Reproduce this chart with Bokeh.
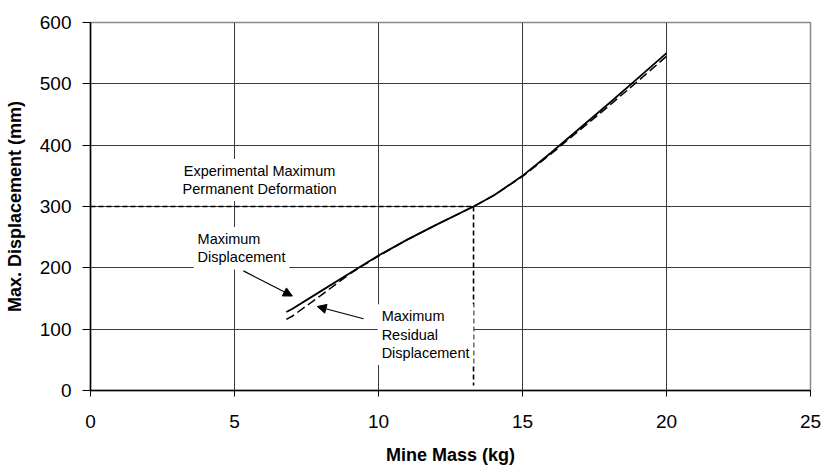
from bokeh.plotting import figure
from bokeh.models import Range1d, FixedTicker, Label, Arrow, NormalHead
from bokeh.embed import file_html
from bokeh.resources import INLINE

# Data
mass_disp = [6.8, 7.0, 8.0, 9.0, 10.0, 11.0, 12.0, 13.0, 13.3, 14.0, 15.0, 16.0, 17.0, 18.0, 19.0, 20.0]
max_disp = [128, 133, 162, 191, 220, 246, 270, 293, 300, 318, 350, 388, 428, 468, 509, 550]
mass_res = [6.8, 7.0, 8.0, 9.0, 9.5, 10.0, 11.0, 12.0, 13.0, 13.3, 14.0, 15.0, 16.0, 17.0, 18.0, 19.0, 20.0]
res_disp = [116, 121, 155, 190, 205, 219, 246, 270, 293, 300, 318, 349, 386, 425, 464, 504, 545]
exp_mass = 13.3
exp_defo = 300
exp_bottom = 8
x_ticks = [0, 5, 10, 15, 20, 25]
y_ticks = [0, 100, 200, 300, 400, 500, 600]

FONT = "Liberation Sans"

p = figure(width=821, height=467, output_backend="svg", toolbar_location=None,
           x_range=Range1d(0, 25), y_range=Range1d(0, 600),
           min_border_left=90, min_border_right=11, min_border_top=22, min_border_bottom=75)
p.background_fill_color = "white"
p.border_fill_color = "white"
p.outline_line_color = "#8a8a8a"
p.outline_line_width = 1.5

for ax, ticks in ((p.xaxis, x_ticks), (p.yaxis, y_ticks)):
    ax.ticker = FixedTicker(ticks=ticks)
    ax.minor_tick_line_color = None
    ax.major_tick_in = 0
    ax.axis_line_color = "black"
    ax.axis_line_width = 1.5
    ax.major_tick_line_color = "black"
    ax.major_label_text_font = FONT
    ax.major_label_text_font_size = "19px"
    ax.major_label_text_color = "black"
    ax.axis_label_text_font = FONT
    ax.axis_label_text_font_style = "bold"
    ax.axis_label_text_font_size = "18px"
    ax.axis_label_text_color = "black"

p.xaxis.major_tick_out = 6
p.yaxis.major_tick_out = 8
p.xaxis.major_label_standoff = 18
p.yaxis.major_label_standoff = 11
p.xaxis.axis_label = "Mine Mass (kg)"
p.yaxis.axis_label = "Max. Displacement (mm)"
p.xaxis.axis_label_standoff = 14
p.yaxis.axis_label_standoff = 12

p.xgrid.ticker = FixedTicker(ticks=x_ticks)
p.ygrid.ticker = FixedTicker(ticks=y_ticks)
p.grid.grid_line_color = "#3a3a3a"
p.grid.grid_line_width = 1

# reference dashed lines
p.line([0, exp_mass], [exp_defo, exp_defo], line_color="black", line_width=1.6, line_dash="5 3")
p.line([exp_mass, exp_mass], [exp_defo, exp_bottom], line_color="black", line_width=1.6, line_dash="5 3")

# curves
p.line(mass_res, res_disp, line_color="black", line_width=1.5, line_dash="9 4")
p.line(mass_disp, max_disp, line_color="black", line_width=1.8)

# annotations
def add_label(x, y, txt, align):
    p.add_layout(Label(x=x, y=y, text=txt, text_align=align, text_baseline="middle",
                       text_font=FONT, text_font_size="14.5px", text_color="black",
                       text_line_height=1.15,
                       background_fill_color="white", padding=4))

add_label(5.87, 343, "Experimental Maximum\nPermanent Deformation", "center")
add_label(3.58, 232, "Maximum\nDisplacement", "left")
add_label(9.97, 91, "Maximum\nResidual\nDisplacement", "left")

p.add_layout(Arrow(x_start=5.31, y_start=195, x_end=7.01, y_end=154,
                   line_color="black", line_width=1.2,
                   end=NormalHead(size=9, fill_color="black", line_color="black")))
p.add_layout(Arrow(x_start=9.48, y_start=117, x_end=7.87, y_end=137,
                   line_color="black", line_width=1.2,
                   end=NormalHead(size=9, fill_color="black", line_color="black")))

open("out.html", "w").write(file_html(p, INLINE))
